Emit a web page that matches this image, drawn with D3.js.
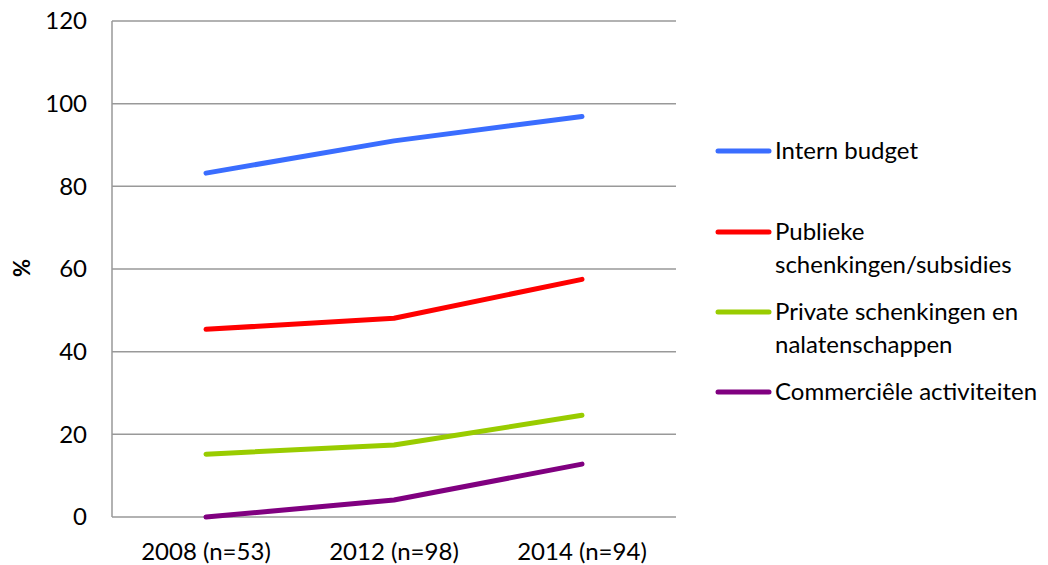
<!DOCTYPE html>
<html><head><meta charset="utf-8">
<script src="https://cdn.jsdelivr.net/npm/d3@7"></script>
<style>body{margin:0;background:#fff;}svg{display:block;font-family:Lato,"Open Sans",sans-serif;}</style>
</head><body>
<svg id="chart" width="1048" height="565"></svg>
<script>
const categories = ["2008 (n=53)", "2012 (n=98)", "2014 (n=94)"];
const seriesNames = ["Intern budget", "Publieke schenkingen/subsidies", "Private schenkingen en nalatenschappen", "Commerciêle activiteiten"];
const internBudget = [83.2, 91.0, 96.9];
const publieke = [45.4, 48.1, 57.5];
const private_ = [15.2, 17.4, 24.6];
const commercieel = [0, 4.1, 12.8];
const yTicks = [0, 20, 40, 60, 80, 100, 120];
const colors = ["#3A6DFF", "#FF0000", "#99CC00", "#800080"];
const legendLines = [["Intern budget"], ["Publieke", "schenkingen/subsidies"], ["Private schenkingen en", "nalatenschappen"], ["Commerciêle activiteiten"]];

const series = [internBudget, publieke, private_, commercieel];
const svg = d3.select("#chart");
const L = 112, R = 676, T = 21, B = 517;
const x = d3.scaleBand().domain(categories).range([L, R]);
const y = d3.scaleLinear().domain([0, 120]).range([B, T]);

svg.append("g").selectAll("line").data(yTicks).join("line")
  .attr("x1", L).attr("x2", R).attr("y1", d => y(d)).attr("y2", d => y(d))
  .attr("stroke", "#999").attr("stroke-width", 1.5);
svg.append("line").attr("x1", L).attr("x2", L).attr("y1", T).attr("y2", B)
  .attr("stroke", "#999").attr("stroke-width", 1.5);

svg.append("g").selectAll("text").data(yTicks).join("text")
  .attr("x", 87).attr("y", d => y(d)).attr("dy", "0.35em")
  .attr("text-anchor", "end").attr("font-size", 24).attr("fill", "#000")
  .text(d => d);

svg.append("g").selectAll("text").data(categories).join("text")
  .attr("x", d => x(d) + x.bandwidth() / 2).attr("y", 560)
  .attr("text-anchor", "middle").attr("font-size", 24).attr("fill", "#000")
  .text(d => d);

svg.append("text").attr("transform", "translate(30,268) rotate(-90)")
  .attr("text-anchor", "middle").attr("font-size", 22).attr("font-weight", "bold")
  .text("%");

const line = d3.line().x((d, i) => x(categories[i]) + x.bandwidth() / 2).y(d => y(d));
svg.append("g").selectAll("path").data(series).join("path")
  .attr("d", d => line(d)).attr("fill", "none")
  .attr("stroke", (d, i) => colors[i]).attr("stroke-width", 5)
  .attr("stroke-linecap", "round").attr("stroke-linejoin", "round");

const legY = [151, 232, 312, 392];
const lg = svg.append("g");
legendLines.forEach((lines, i) => {
  lg.append("line").attr("x1", 718).attr("x2", 769).attr("y1", legY[i]).attr("y2", legY[i])
    .attr("stroke", colors[i]).attr("stroke-width", 5).attr("stroke-linecap", "round");
  lines.forEach((t, j) => {
    lg.append("text").attr("x", 775).attr("y", legY[i] + j * 33).attr("dy", "0.35em")
      .attr("font-size", 24).attr("fill", "#000").text(t);
  });
});
</script>
</body></html>
